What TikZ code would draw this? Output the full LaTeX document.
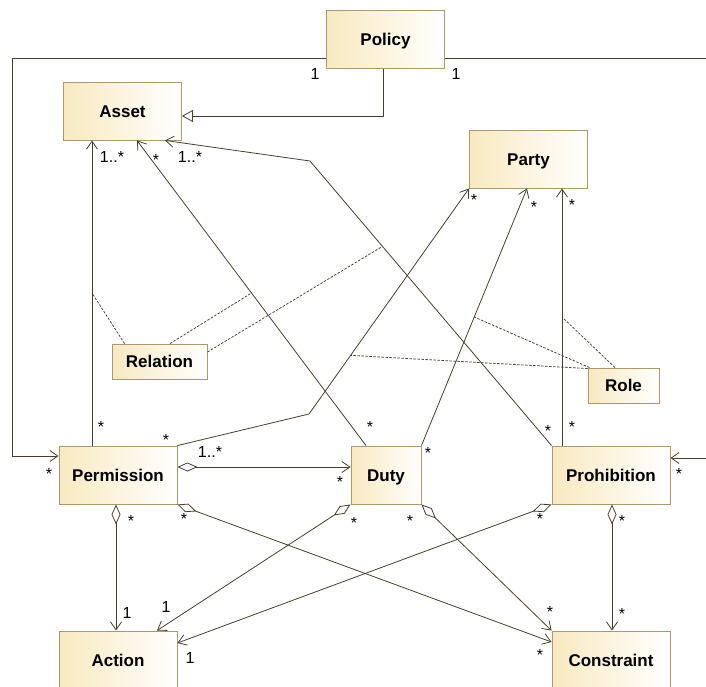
\documentclass[tikz,border=0pt]{standalone}
\usepackage{fontspec}
\setmainfont{Liberation Sans}
\usetikzlibrary{arrows.meta}
\definecolor{clsfill}{RGB}{248,233,192}
\definecolor{clsline}{RGB}{172,152,110}
\definecolor{wire}{RGB}{72,62,45}

\begin{document}
\begin{tikzpicture}[x=1pt,y=-1pt,
  cls/.style={draw=clsline,line width=0.9pt,left color=clsfill,right color=white,
    font=\fontsize{17}{20}\selectfont\bfseries,text height=12.2pt,text depth=0pt,
    minimum width=118pt,minimum height=58pt,inner sep=0pt},
  assoc/.style={draw=wire,line width=0.8pt,-{Straight Barb[length=8pt,width=11pt]}},
  agg/.style={draw=wire,line width=0.8pt,{Diamond[open,length=20pt,width=9pt]}-{Straight Barb[length=8pt,width=11pt]}},
  link/.style={draw=wire,line width=0.75pt,dash pattern=on 2.5pt off 1.5pt},
  mult/.style={font=\fontsize{16}{18}\selectfont,inner sep=0pt}]
\useasboundingbox (0,0) rectangle (706,686);

% Classes
\node[cls] (policy) at (385.5,39.5) {Policy};
\node[cls] (asset) at (122.5,111) {Asset};
\node[cls] (party) at (528.5,159) {Party};
\node[cls,minimum width=95pt,minimum height=35pt] (relation) at (159.5,361.5) {Relation};
\node[cls,minimum width=71pt,minimum height=35pt] (role) at (623.5,385.5) {Role};
\node[cls] (perm) at (118,475) {Permission};
\node[cls,minimum width=70pt] (duty) at (386,475) {Duty};
\node[cls] (prohib) at (611,475) {Prohibition};
\node[cls] (action) at (118,660) {Action};
\node[cls] (constraint) at (611,660) {Constraint};

% Policy
\coordinate (rimL) at (12,58);
\coordinate (rimR) at (712,58);
\draw[draw=wire,line width=0.8pt,-{Triangle[open,length=11pt,width=12pt]}] ([xshift=-2.5pt]policy.south) |- ([yshift=-5pt]asset.east);
\draw[assoc] ([yshift=-18.5pt]policy.west) -- (rimL) |- ([yshift=19pt]perm.west);
\draw[assoc] ([yshift=-18.5pt]policy.east) -- (rimR) |- ([yshift=17pt]prohib.east);

% Targets and assignees
\coordinate (pbend) at (310,161);
\coordinate (qbend) at (309,414);
\draw[assoc] ([xshift=-26pt]perm.north) -- coordinate (pa) ([xshift=-26pt]perm.north |- asset.south);
\draw[assoc] ([xshift=-20pt]duty.north) -- coordinate (da) ([xshift=14.5pt]asset.south);
\draw[assoc] (prohib.north west) -- coordinate[pos=0.7] (ra) (pbend) -- ([xshift=42.5pt]asset.south);
\draw[assoc] (perm.north east) -- (qbend) -- coordinate[pos=0.26] (pp) (party.south west);
\draw[assoc] (duty.north east) -- coordinate (dp) ([xshift=-1.5pt]party.south);
\draw[assoc] ([xshift=-49pt]prohib.north) -- coordinate (hp) ([xshift=-49pt]prohib.north |- party.south);

% Association classes
\draw[link] ([xshift=13pt]relation.north west) -- (pa);
\draw[link] ([xshift=10.5pt]relation.north) -- (da);
\draw[link] ([yshift=9.5pt]relation.east) -- (ra);
\draw[link] ([xshift=2pt]role.north west) -- (dp);
\draw[link] ([xshift=-8.5pt]role.north) -- (hp);
\draw[link] ([yshift=-1pt]role.north west) -- (pp);

% Aggregations
\draw[agg] ([yshift=8pt]perm.east) -- ([yshift=8pt]duty.west);
\draw[agg] ([xshift=-2pt]perm.south) -- ([xshift=-2pt]action.north);
\draw[agg] (perm.south east) -- ([yshift=18pt]constraint.west);
\draw[agg] (duty.south west) -- ([xshift=39pt]action.north);
\draw[agg] (duty.south east) -- (constraint.north west);
\draw[agg] (prohib.south west) -- ([yshift=17pt]action.east);
\draw[agg] ([xshift=1pt]prohib.south) -- ([xshift=1pt]constraint.north);

% Multiplicities
\foreach \px/\py [count=\i] in {49/470, 679/470, 156/156, 474/196, 534/203, 572/201,
    101/423, 166/436, 370/423, 428/449, 548/427, 572/423, 340/478, 131/517, 184/515,
    540/651, 354/519, 410/517, 550/608, 540/515, 622/517, 622/610}
  \node[mult] (star\i) at (\px,\py+3.5) {*};
\foreach \px/\py/\t [count=\i] in {315/74/1, 456/74/1, 112/157/{1..*}, 190/157/{1..*},
    210/452/{1..*}, 127/613/1, 166/607/1, 190/658/1}
  \node[mult] (one\i) at (\px,\py) {\t};
\end{tikzpicture}
\end{document}
